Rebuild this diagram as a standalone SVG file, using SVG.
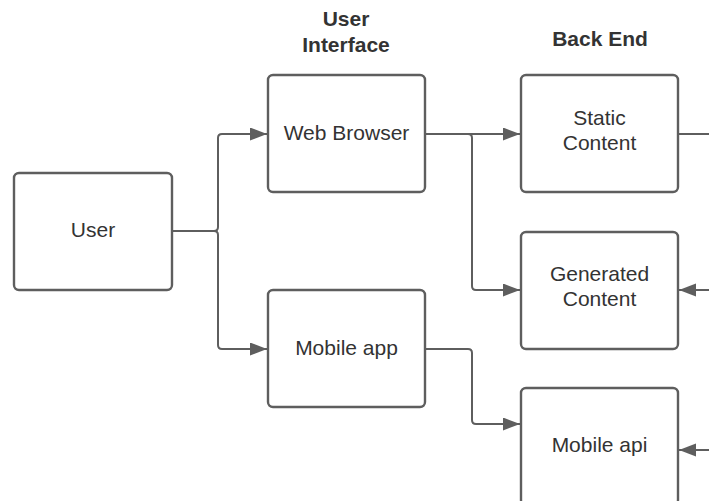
<svg xmlns="http://www.w3.org/2000/svg" width="709" height="501" viewBox="0 0 709 501">
<style>
.box{fill:#fff;stroke:#5e5e5e;stroke-width:2.4}
.t{font-family:"Liberation Sans",Arial,sans-serif;font-size:21px;fill:#333;text-anchor:middle}
.h{font-family:"Liberation Sans",Arial,sans-serif;font-size:21px;font-weight:bold;fill:#333;text-anchor:middle}
.c{fill:none;stroke:#5e5e5e;stroke-width:2}
</style>
<defs>
<marker id="arr" markerUnits="userSpaceOnUse" markerWidth="18" markerHeight="14" refX="17" refY="6.5" orient="auto">
<path d="M0,0 L17,6.5 L0,13 z" fill="#5e5e5e"/>
</marker>
</defs>
<rect width="709" height="501" fill="#fff"/>
<g id="headers">
<text class="h" x="346" y="26">User</text>
<text class="h" x="346" y="52">Interface</text>
<text class="h" x="600" y="46">Back End</text>
</g>
<g id="connectors">
<path class="c" d="M172,231 H214 Q218,231 218,227 V138 Q218,134 222,134 H267" marker-end="url(#arr)"/>
<path class="c" d="M172,231 H214 Q218,231 218,235 V345 Q218,349 222,349 H267" marker-end="url(#arr)"/>
<path class="c" d="M425,134 H520" marker-end="url(#arr)"/>
<path class="c" d="M425,134 H468 Q472,134 472,138 V286 Q472,290 476,290 H520" marker-end="url(#arr)"/>
<path class="c" d="M425,349 H468 Q472,349 472,353 V420 Q472,424 476,424 H520" marker-end="url(#arr)"/>
<path class="c" d="M678,134 H709"/>
<path class="c" d="M709,290 H679" marker-end="url(#arr)"/>
<path class="c" d="M709,450 H679" marker-end="url(#arr)"/>
</g>
<g id="user">
<rect class="box" x="14" y="173" width="158" height="117" rx="5"/>
<text class="t" x="93" y="237">User</text>
</g>
<g id="web-browser">
<rect class="box" x="268" y="75" width="157" height="117" rx="5"/>
<text class="t" x="346.5" y="140">Web Browser</text>
</g>
<g id="mobile-app">
<rect class="box" x="268" y="290" width="157" height="117" rx="5"/>
<text class="t" x="346.5" y="355">Mobile app</text>
</g>
<g id="static-content">
<rect class="box" x="521" y="75" width="157" height="117" rx="5"/>
<text class="t" x="599.5" y="125">Static</text>
<text class="t" x="599.5" y="150">Content</text>
</g>
<g id="generated-content">
<rect class="box" x="521" y="232" width="157" height="117" rx="5"/>
<text class="t" x="599.5" y="281">Generated</text>
<text class="t" x="599.5" y="306">Content</text>
</g>
<g id="mobile-api">
<rect class="box" x="521" y="388" width="157" height="117" rx="5"/>
<text class="t" x="599.5" y="452">Mobile api</text>
</g>
</svg>
